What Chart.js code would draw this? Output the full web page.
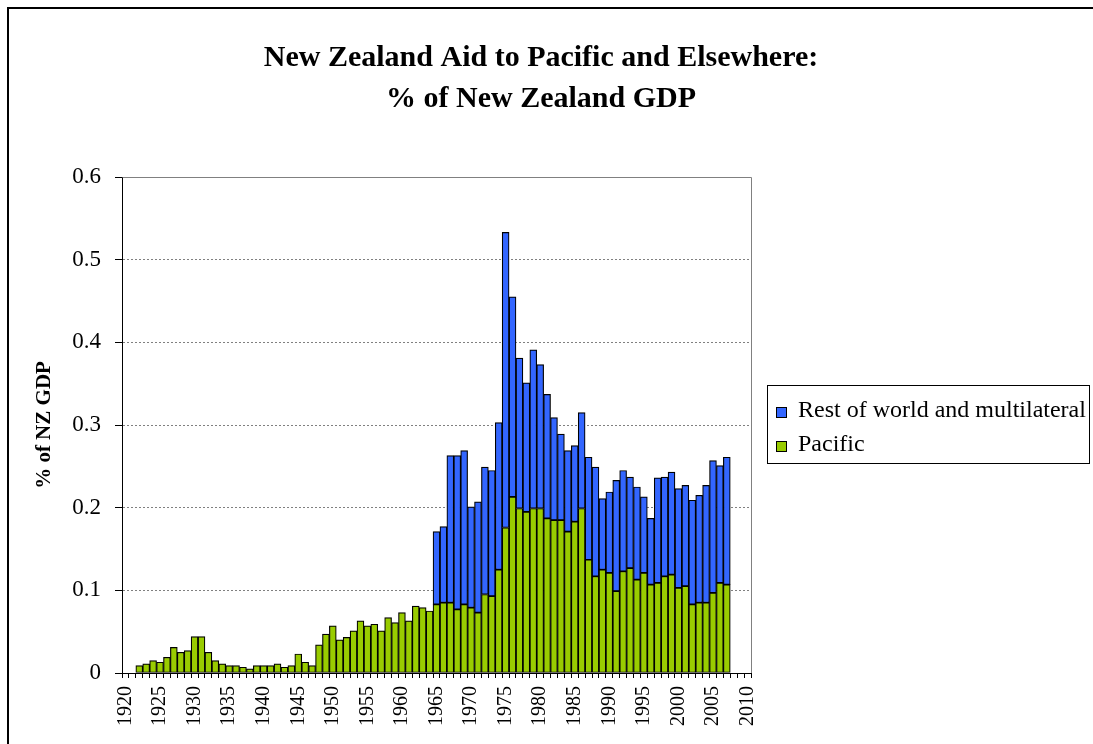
<!DOCTYPE html>
<html>
<head>
<meta charset="utf-8">
<title>New Zealand Aid to Pacific and Elsewhere</title>
<script src="https://cdn.jsdelivr.net/npm/chart.js@4.4.0/dist/chart.umd.min.js"></script>
<style>
  html, body { margin: 0; padding: 0; background: #fff; }
  #wrap { position: relative; width: 1093px; height: 744px; }
</style>
</head>
<body>
<div id="wrap"><canvas id="chart"></canvas></div>
<script>
/* NZ aid as % of GDP, stacked by destination (1920-2010) */

const years = [
  1920, 1921, 1922, 1923, 1924, 1925, 1926, 1927, 1928, 1929,
  1930, 1931, 1932, 1933, 1934, 1935, 1936, 1937, 1938, 1939,
  1940, 1941, 1942, 1943, 1944, 1945, 1946, 1947, 1948, 1949,
  1950, 1951, 1952, 1953, 1954, 1955, 1956, 1957, 1958, 1959,
  1960, 1961, 1962, 1963, 1964, 1965, 1966, 1967, 1968, 1969,
  1970, 1971, 1972, 1973, 1974, 1975, 1976, 1977, 1978, 1979,
  1980, 1981, 1982, 1983, 1984, 1985, 1986, 1987, 1988, 1989,
  1990, 1991, 1992, 1993, 1994, 1995, 1996, 1997, 1998, 1999,
  2000, 2001, 2002, 2003, 2004, 2005, 2006, 2007, 2008, 2009,
  2010
];

const pacific = [
  null,  null,  0.009, 0.011, 0.015, 0.013, 0.019, 0.031, 0.025, 0.027,
  0.044, 0.044, 0.025, 0.015, 0.011, 0.009, 0.009, 0.007, 0.005, 0.009,
  0.009, 0.009, 0.011, 0.007, 0.009, 0.023, 0.013, 0.009, 0.034, 0.047,
  0.057, 0.040, 0.043, 0.051, 0.063, 0.057, 0.059, 0.051, 0.067, 0.061,
  0.073, 0.063, 0.081, 0.079, 0.075, 0.083, 0.085, 0.085, 0.077, 0.083,
  0.079, 0.073, 0.095, 0.093, 0.125, 0.176, 0.213, 0.199, 0.195, 0.199,
  0.199, 0.187, 0.185, 0.185, 0.171, 0.183, 0.199, 0.137, 0.117, 0.125,
  0.121, 0.099, 0.123, 0.127, 0.113, 0.121, 0.107, 0.109, 0.117, 0.119,
  0.103, 0.105, 0.083, 0.085, 0.085, 0.097, 0.109, 0.107, null,  null,
  null
];

const restOfWorld = [
  null,  null,  null,  null,  null,  null,  null,  null,  null,  null,
  null,  null,  null,  null,  null,  null,  null,  null,  null,  null,
  null,  null,  null,  null,  null,  null,  null,  null,  null,  null,
  null,  null,  null,  null,  null,  null,  null,  null,  null,  null,
  null,  null,  null,  null,  null,  0.088, 0.092, 0.178, 0.186, 0.186,
  0.122, 0.134, 0.154, 0.152, 0.178, 0.357, 0.242, 0.182, 0.156, 0.192,
  0.174, 0.150, 0.124, 0.104, 0.098, 0.092, 0.116, 0.124, 0.132, 0.086,
  0.098, 0.134, 0.122, 0.110, 0.112, 0.092, 0.080, 0.127, 0.120, 0.124,
  0.120, 0.122, 0.126, 0.130, 0.142, 0.160, 0.142, 0.154, null,  null,
  null
];

const yTickLabels = ['0', '0.1', '0.2', '0.3', '0.4', '0.5', '0.6'];
const titleLines = ['New Zealand Aid to Pacific and Elsewhere:', '% of New Zealand GDP'];

const FONT = "'Liberation Serif', 'Times New Roman', serif";
const BLUE = '#3366FF';
const GREEN = '#99CC00';

// title, framed legend, outer border and plot-area edge (Excel style)
const excelFrame = {
  id: 'excelFrame',
  beforeDraw(chart) {
    const { ctx } = chart;
    ctx.save();
    ctx.fillStyle = '#fff';
    ctx.fillRect(0, 0, chart.width, chart.height);
    ctx.restore();
  },
  afterDraw(chart) {
    const { ctx, chartArea: a } = chart;
    ctx.save();

    // outer chart border (cropped at right / bottom)
    ctx.strokeStyle = '#000';
    ctx.lineWidth = 2;
    ctx.beginPath();
    ctx.moveTo(8, chart.height);
    ctx.lineTo(8, 8);
    ctx.lineTo(chart.width, 8);
    ctx.stroke();

    // plot area edge
    ctx.strokeStyle = '#808080';
    ctx.lineWidth = 1;
    ctx.beginPath();
    ctx.moveTo(Math.round(a.left) + 0.5, Math.round(a.top) + 0.5);
    ctx.lineTo(Math.round(a.right) + 0.5, Math.round(a.top) + 0.5);
    ctx.lineTo(Math.round(a.right) + 0.5, Math.round(a.bottom));
    ctx.stroke();

    // title
    ctx.fillStyle = '#000';
    ctx.font = 'bold 30px ' + FONT;
    ctx.textAlign = 'center';
    ctx.textBaseline = 'alphabetic';
    ctx.fillText(titleLines[0], 541, 66);
    ctx.fillText(titleLines[1], 541, 107);

    // legend box
    ctx.strokeStyle = '#000';
    ctx.lineWidth = 1;
    ctx.strokeRect(767.5, 385.5, 322, 78);
    const items = chart.data.datasets.slice().reverse();
    ctx.font = '24px ' + FONT;
    ctx.textAlign = 'left';
    items.forEach((ds, i) => {
      const y = 407 + i * 34;
      ctx.fillStyle = ds.backgroundColor;
      ctx.fillRect(776, y, 10, 10);
      ctx.strokeRect(776.5, y + 0.5, 10, 10);
      ctx.fillStyle = '#000';
      ctx.fillText(ds.label, 798, y + 10);
    });

    ctx.restore();
  }
};

new Chart(document.getElementById('chart'), {
  type: 'bar',
  data: {
    labels: years,
    datasets: [
      {
        label: 'Pacific',
        data: pacific,
        backgroundColor: GREEN,
        borderColor: '#000',
        borderWidth: 1.2,
        borderSkipped: false,
        barPercentage: 1,
        categoryPercentage: 1,
      },
      {
        label: 'Rest of world and multilateral',
        data: restOfWorld,
        backgroundColor: BLUE,
        borderColor: '#000',
        borderWidth: 1.2,
        borderSkipped: false,
        barPercentage: 1,
        categoryPercentage: 1,
      },
    ],
  },
  options: {
    responsive: true,
    maintainAspectRatio: false,
    devicePixelRatio: 1,
    animation: false,
    layout: { padding: { top: 177, left: 8, right: 342, bottom: 0 } },
    plugins: {
      legend: { display: false },
      title: { display: false },
      tooltip: { enabled: false },
    },
    scales: {
      x: {
        stacked: true,
        afterFit: s => { s.height = 71; s.paddingLeft = 0; s.paddingRight = 0; },
        ticks: {
          autoSkip: false,
          minRotation: 90,
          maxRotation: 90,
          padding: 8,
          color: '#000',
          font: { family: FONT, size: 20 },
          callback: (v, i) => (years[i] % 5 === 0 ? String(years[i]) : ''),
        },
        grid: { offset: true, drawOnChartArea: false, color: '#000', tickLength: 5 },
        border: { color: '#000', width: 1 },
      },
      y: {
        stacked: true,
        min: 0,
        max: 0.6,
        afterFit: s => { s.width = 114; s.paddingTop = 0; s.paddingBottom = 0; },
        ticks: {
          stepSize: 0.1,
          color: '#000',
          padding: 14,
          font: { family: FONT, size: 23 },
          callback: (v, i) => yTickLabels[i],
        },
        grid: { color: '#808080', lineWidth: 1, tickColor: '#000', tickLength: 7, tickBorderDash: [] },
        border: { color: '#000', width: 1, dash: [2, 2] },
        title: {
          display: true,
          text: '% of NZ GDP',
          color: '#000',
          font: { family: FONT, size: 21, weight: 'bold' },
          padding: { top: 24, bottom: 0 },
        },
      },
    },
  },
  plugins: [excelFrame],
});
</script>
</body>
</html>
